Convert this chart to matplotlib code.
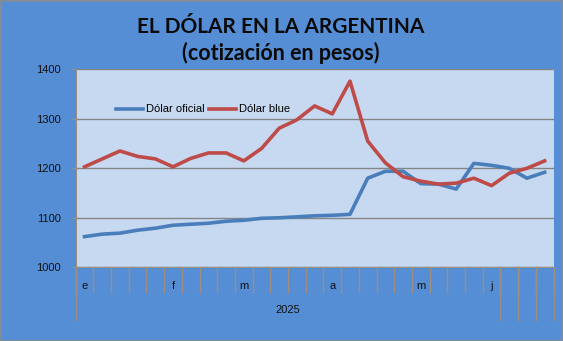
import matplotlib
matplotlib.use("Agg")
import matplotlib.pyplot as plt
from matplotlib.patches import Rectangle

# weekly quotes, pesos per dollar
oficial = [1062, 1067, 1069, 1075, 1079, 1085, 1087, 1089, 1093, 1095, 1099, 1100, 1102,
           1104, 1105, 1107, 1180, 1194, 1194, 1169, 1168, 1158, 1210, 1206, 1200, 1180, 1192]
blue = [1203, 1219, 1235, 1224, 1219, 1203, 1220, 1231, 1231, 1215, 1240, 1281, 1298,
        1326, 1310, 1376, 1255, 1211, 1183, 1174, 1168, 1170, 1180, 1165, 1190, 1200, 1215]
month_labels = ["e", "", "", "", "", "f", "", "", "", "m", "", "", "", "",
                "a", "", "", "", "", "m", "", "", "", "j", "", "", ""]
year_label = "2025"
year_span = 24  # weeks that belong to the year group
yticks = [1000, 1100, 1200, 1300, 1400]

bg = "#558ED5"
plot_bg = "#C6D9F1"
c_oficial = "#4A7EBB"
c_blue = "#BE4B48"
tick_col = "#9C8E80"

W, H = 563, 341
fig = plt.figure(figsize=(W / 100, H / 100), dpi=100)
fig.patch.set_facecolor(bg)

# outer border
fig.patches.append(Rectangle((0.5 / W, 0.5 / H), 1 - 1.5 / W, 1 - 1.5 / H, transform=fig.transFigure,
                             fill=False, edgecolor="#8C8C8C", linewidth=1.2))

ax = fig.add_axes([75.7 / W, (H - 267.3) / H, 477.8 / W, 198 / H])
ax.set_facecolor(plot_bg)

n = len(oficial)
x = list(range(n))
ax.plot(x, oficial, color=c_oficial, lw=2.6, label="Dólar oficial", solid_joinstyle="round")
ax.plot(x, blue, color=c_blue, lw=2.6, label="Dólar blue", solid_joinstyle="round")

ax.set_xlim(-0.5, n - 0.5)
ax.set_ylim(1000, 1400)
ax.set_yticks(yticks)
ax.set_yticklabels([str(v) for v in yticks], fontsize=8, family="Liberation Sans", color="#111111")
ax.yaxis.grid(True, color="#858585", lw=1)
ax.set_axisbelow(True)
ax.tick_params(axis="y", length=3, color=tick_col, pad=7.5)

# category labels in the centre, separators on the boundaries
ax.set_xticks(x)
ax.set_xticklabels(month_labels, fontsize=8, family="Liberation Sans", color="#111111")
ax.tick_params(axis="x", length=0, pad=10)
ax.set_xticks([i - 0.5 for i in range(n + 1)], minor=True)
ax.tick_params(axis="x", which="minor", length=19, color=tick_col, width=1)

# year group separators reach further down
tr = ax.get_xaxis_transform()
for b in [-0.5, year_span - 0.5] + [i + 0.5 for i in range(year_span, n)]:
    ax.plot([b, b], [0, -0.266], transform=tr, color=tick_col, lw=1, clip_on=False)
ax.text((year_span - 1) / 2, -0.215, year_label, transform=tr, ha="center", va="center",
        fontsize=8, family="Liberation Sans", color="#111111")

for side in ["top", "right"]:
    ax.spines[side].set_visible(False)
ax.spines["left"].set_color(tick_col)
ax.spines["bottom"].set_color(tick_col)

ax.legend(loc="upper left", bbox_to_anchor=(0.075, 0.845), ncol=2, frameon=False,
          prop={"family": "Liberation Sans", "size": 8}, handlelength=2.4,
          handletextpad=0.3, columnspacing=0.4, borderaxespad=0)

fig.text(280.5 / W, 1 - 33.3 / H, "EL DÓLAR EN LA ARGENTINA", ha="center", va="baseline",
         fontsize=15, family="Lato", fontweight="bold", color="#0a0a0a")
fig.text(280.5 / W, 1 - 59.5 / H, "(cotización en pesos)", ha="center", va="baseline",
         fontsize=15.5, family="Lato", fontweight="bold", color="#0a0a0a")

fig.savefig("out.png", dpi=100, facecolor=bg)
